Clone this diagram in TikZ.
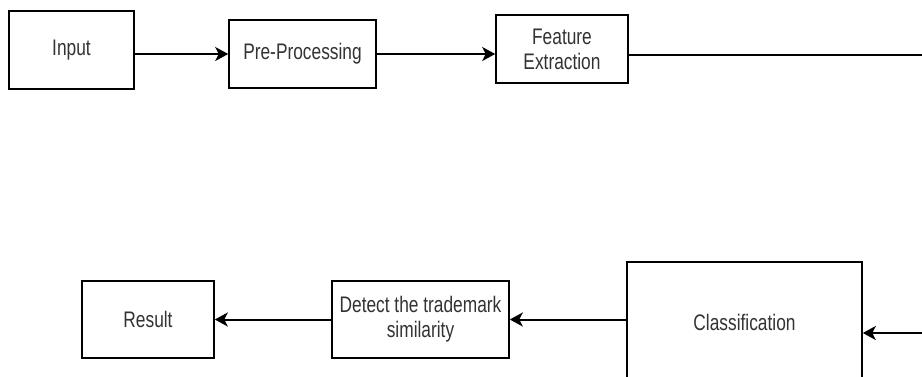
\documentclass[tikz,border=0pt]{standalone}
\usepackage{fontspec}
\setmainfont{Liberation Sans}[FakeStretch=0.77]
\usetikzlibrary{arrows.meta}
\tikzset{
  box/.style={draw=black, line width=1.6pt, fill=white, text=black!80, align=center,
    inner sep=0pt, font=\fontsize{22.5}{25}\selectfont},
  arr/.style={line width=2pt, -{Stealth[length=13pt,width=14pt,inset=3.5pt]}},
  ln/.style={line width=2pt}
}
\begin{document}
\begin{tikzpicture}[x=1pt,y=-1pt]
\useasboundingbox (0,0) rectangle (922,376);
\clip (0,0) rectangle (922,376);
\node[box, minimum width=125pt, minimum height=78pt] (in) at (71.5,50) {Input};
\node[box, minimum width=147pt, minimum height=68pt] (pp) at (302.5,54) {Pre-Processing};
\node[box, minimum width=132pt, minimum height=68pt] (fe) at (562,49) {Feature\\Extraction};
\node[box, minimum width=235pt, minimum height=120pt] (cls) at (744.5,322) {Classification};
\node[box, minimum width=177pt, minimum height=77pt] (det) at (420.5,319.5) {Detect the trademark\\similarity};
\node[box, minimum width=132pt, minimum height=77pt] (res) at (148,319.5) {Result};
\coordinate (r1) at (940,55);
\coordinate (r2) at (940,333);
\draw[arr] (in.east |- pp.west) -- (pp.west);
\draw[arr] (pp.east) -- (pp.east -| fe.west);
\draw[ln] (fe.east |- r1) -- (r1) -- (r2);
\draw[arr] (r2) -- (cls.east |- r2);
\draw[arr] (cls.west |- det.east) -- (det.east);
\draw[arr] (det.west) -- (res.east);
\end{tikzpicture}
\end{document}
